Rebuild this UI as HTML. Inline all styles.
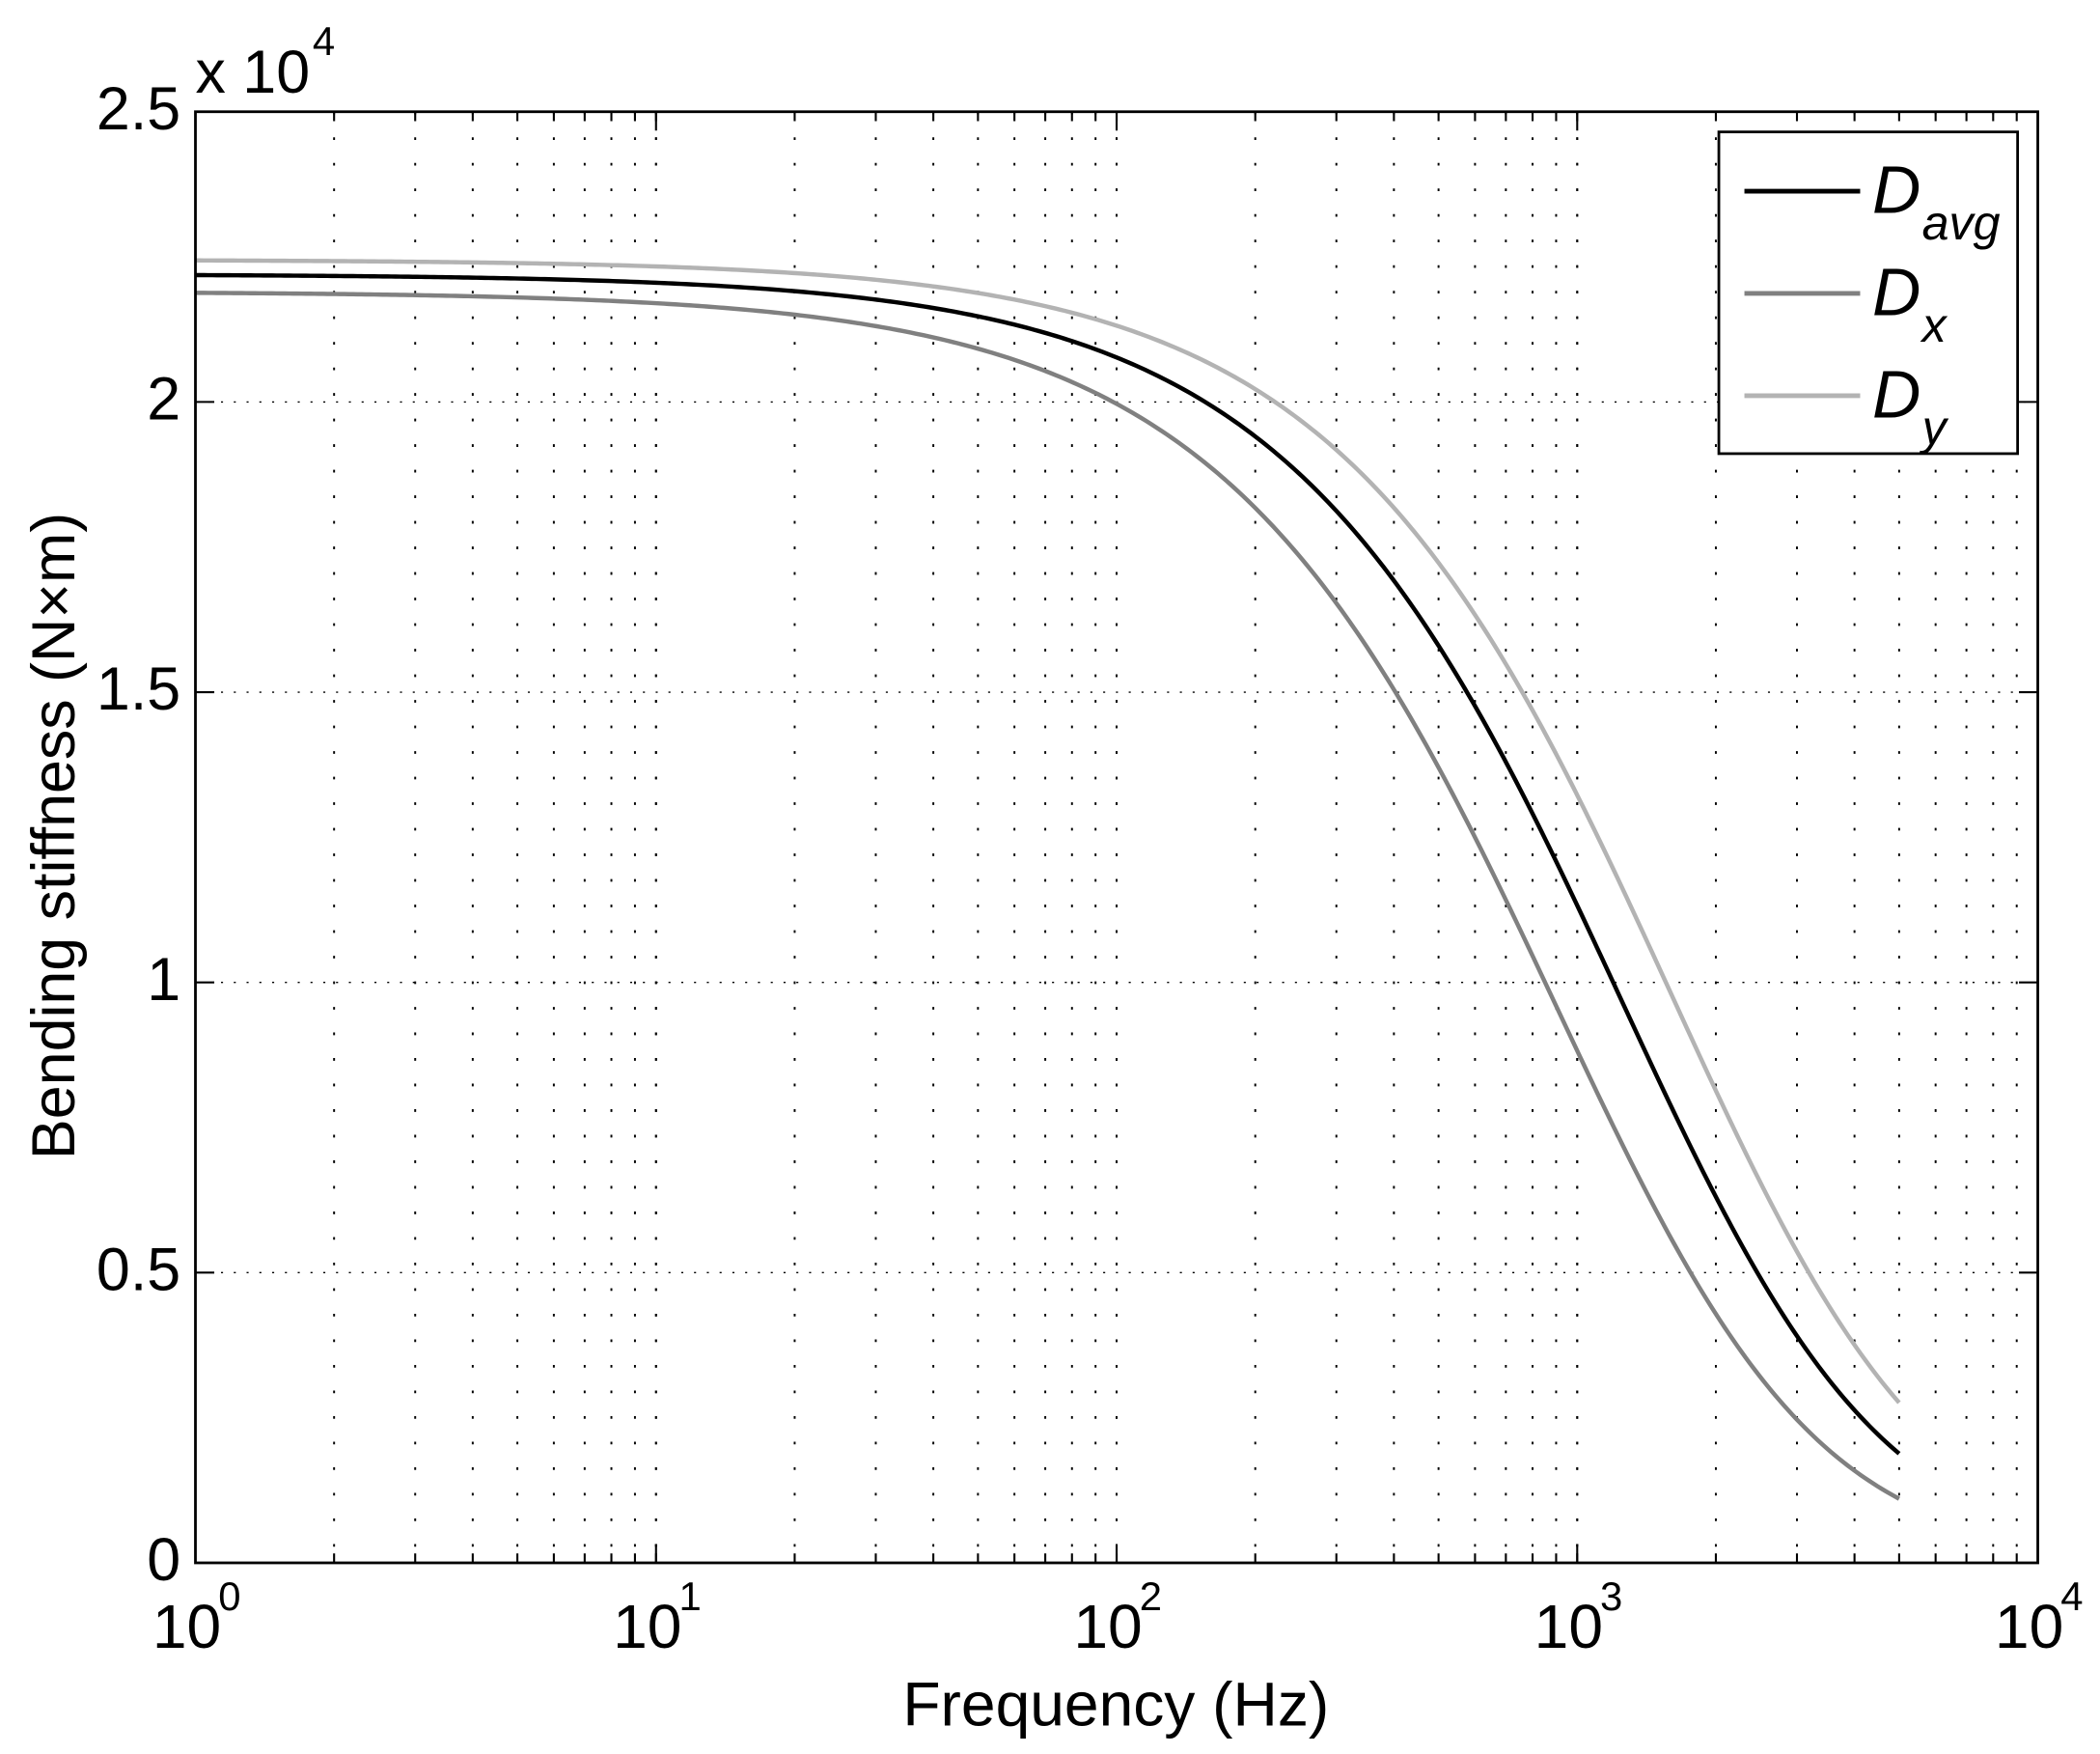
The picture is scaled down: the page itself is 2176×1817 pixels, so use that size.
<!DOCTYPE html>
<html><head><meta charset="utf-8"><style>
html,body{margin:0;padding:0;background:#fff;}
svg{display:block;}
text{font-family:"Liberation Sans",sans-serif;fill:#000;}
</style></head><body>
<svg id="s" xmlns="http://www.w3.org/2000/svg" width="2176" height="1817" viewBox="0 0 1560 1303">
<rect width="1560" height="1303" fill="#fff"/>
<g id="grid"></g>
<g id="curves"></g>
<rect x="145" y="83" width="1369" height="1078" fill="none" stroke="#000" stroke-width="2"/>
<g id="ticks"></g>
<g font-size="45" text-anchor="end" id="yl"></g>
<text x="145" y="69" font-size="45">x 10</text>
<text x="232" y="41" font-size="30">4</text>
<g id="xl" font-size="46"></g>
<text x="829" y="1282" font-size="46" text-anchor="middle">Frequency (Hz)</text>
<text transform="translate(55,621) rotate(-90)" font-size="45" text-anchor="middle">Bending stiffness (N×m)</text>
<rect x="1277" y="98" width="222" height="239" fill="#fff" stroke="#000" stroke-width="2"/>
<line x1="1296" y1="142" x2="1382" y2="142" stroke="#000" stroke-width="3.5"/>
<line x1="1296" y1="218" x2="1382" y2="218" stroke="#808080" stroke-width="3.5"/>
<line x1="1296" y1="294" x2="1382" y2="294" stroke="#b3b3b3" stroke-width="3.5"/>
<g font-size="50" font-style="italic">
<text x="1391" y="158">D</text><text x="1428" y="178" font-size="36">avg</text>
<text x="1391" y="234">D</text><text x="1428" y="254" font-size="36">x</text>
<text x="1391" y="310">D</text><text x="1428" y="330" font-size="36">y</text>
</g>
</svg>
<script>
var ns="http://www.w3.org/2000/svg";
function el(p,t,a){var e=document.createElementNS(ns,t);for(var k in a)e.setAttribute(k,a[k]);document.getElementById(p).appendChild(e);return e;}
var L=145,R=1514,T=83,B=1161,dec=(R-L)/4;
function X(f){return L+Math.log10(f)*dec;}
function Y(v){return B-v*(B-T)/2.5;}
for(var d=0;d<4;d++){for(var m=1;m<=10;m++){var f=Math.pow(10,d)*m;if(m==1&&d==0)continue;var x=X(f);
 if(!(m==10&&d==3)) el("grid","line",{x1:x,y1:T,x2:x,y2:B,stroke:"#000","stroke-width":1.4,"stroke-dasharray":"2 17"});
 var len=(m==10)?14:7;
 el("ticks","line",{x1:x,y1:B,x2:x,y2:B-len,stroke:"#000","stroke-width":1.5});
 el("ticks","line",{x1:x,y1:T,x2:x,y2:T+len,stroke:"#000","stroke-width":1.5});
}}
var labs=["0","0.5","1","1.5","2","2.5"];
for(var i=0;i<6;i++){var y=Y(i*0.5);
 var t=el("yl","text",{x:L-11,y:y+13});t.textContent=labs[i];
 if(i==0||i==5)continue;
 el("grid","line",{x1:L,y1:y,x2:R,y2:y,stroke:"#000","stroke-width":1,"stroke-dasharray":"1.5 8"});
 el("ticks","line",{x1:L,y1:y,x2:L+14,y2:y,stroke:"#000","stroke-width":1.5});
 el("ticks","line",{x1:R,y1:y,x2:R-14,y2:y,stroke:"#000","stroke-width":1.5});
}
for(var d=0;d<=4;d++){var x=X(Math.pow(10,d));
 var t=el("xl","text",{x:x-32,y:1224});t.textContent="10";
 var s=el("xl","text",{x:x+17,y:1196,"font-size":30});s.textContent=String(d);
}
function curve(D0,k,col){var p="";for(var i=0;i<=400;i++){var lf=i/400*Math.log10(5000);var f=Math.pow(10,lf);var g=0.00066*f*k+3.0e-7*(f*k)*(f*k);var v=D0/(1+g);
 p+=(i?"L":"M")+X(f).toFixed(2)+","+Y(v).toFixed(2);}
 el("curves","path",{d:p,fill:"none",stroke:col,"stroke-width":3.2});}
curve(2.245,0.78,"#b3b3b3");
curve(2.19,1.38,"#808080");
curve(2.22,1.0,"#000");
</script>
</body></html>
